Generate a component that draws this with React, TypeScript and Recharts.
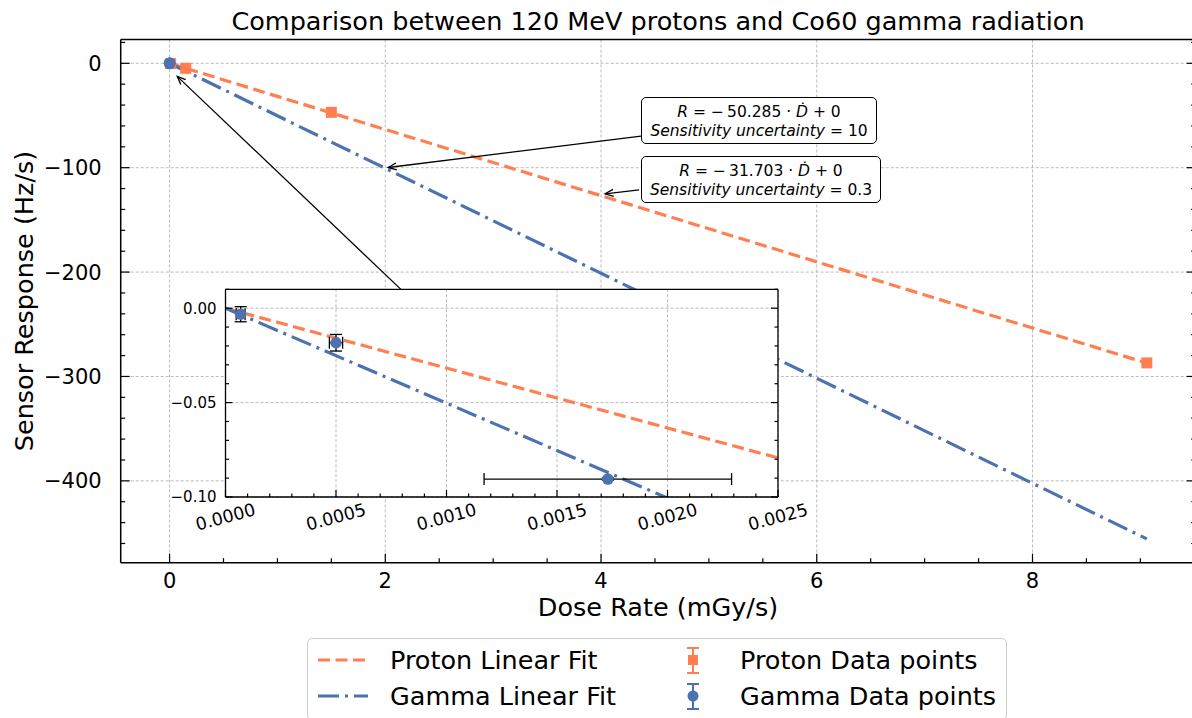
import React from 'react';
import {
  ComposedChart,
  Line,
  Scatter,
  XAxis,
  YAxis,
  ErrorBar,
  CartesianGrid,
  ReferenceLine,
} from 'recharts';

const FONT = "'DejaVu Sans', sans-serif";
const PROTON = '#FF7F50';
const GAMMA = '#4C72B0';

// measured points
const protonX = [0.01, 0.15, 1.5, 9.06];
const protonY = [-0.3, -4.8, -47, -287];
const gammaX = [0.0000685, 0.0005, 0.00173];
const gammaY = [-0.0032, -0.0183, -0.0905];
const gammaXErr = [0.00002, 0.00003, 0.00056];
const gammaYErr = [0.004, 0.0044, 0.0006];

// fit lines, end points
const fitX = [0, 9.06];
const protonFitY = [0, -287.2];
const gammaFitY = [0, -455.6];
const insetFitX = [0, 0.0025];
const insetProtonFitY = [0, -0.0793];
const insetGammaFitY = [0, -0.1257];

// annotation arrows [from, to] in data units
const gammaArrow = [{ x: 4.37, y: -69.7 }, { x: 2.027, y: -99.8 }];
const protonArrow = [{ x: 4.353, y: -121.2 }, { x: 4.038, y: -125 }];
const insetArrow = [{ x: 2.152, y: -217.3 }, { x: 0.071, y: -12.5 }];

const xMajor = [0, 2, 4, 6, 8];
const xLabels = ['0', '2', '4', '6', '8'];
const yMajor = [0, -100, -200, -300, -400];
const yLabels = ['0', '−100', '−200', '−300', '−400'];
const insetXMajor = [0, 0.0005, 0.001, 0.0015, 0.002, 0.0025];
const insetXLabels = ['0.0000', '0.0005', '0.0010', '0.0015', '0.0020', '0.0025'];
const insetYMajor = [0, -0.05, -0.1];
const insetYLabels = ['0.00', '−0.05', '−0.10'];

const legendLabels = ['Proton Linear Fit', 'Gamma Linear Fit', 'Proton Data points', 'Gamma Data points'];

const steps = (a: number, b: number, step: number) => {
  const n = Math.round((b - a) / step);
  return Array.from({ length: n + 1 }, (_, i) => +(a + i * step).toFixed(7));
};
const pts = (xs: number[], ys: number[]) => xs.map((x, i) => ({ x, y: ys[i] }));

const mainXTicks = steps(0, 9.5, 0.5);
const mainYTicks = steps(-460, 20, 20);
const insetXTicks = steps(0, 0.0025, 0.0001);
const insetYTicks = steps(-0.1, 0.01, 0.01);

const protonPts = pts(protonX, protonY);
const gammaPts = gammaX.map((x, i) => ({ x, y: gammaY[i], ex: gammaXErr[i], ey: gammaYErr[i] }));

type Side = 'bottom' | 'top' | 'left' | 'right';

function axisTick(
  side: Side,
  majors: number[],
  labels: string[] | null,
  major: number,
  minor: number,
  fontSize = 21,
  inset = false
) {
  return (props: any) => {
    const { x, y, payload } = props;
    const i = majors.findIndex((m) => Math.abs(m - payload.value) < 1e-9);
    const len = i >= 0 ? major : minor;
    const lp = { stroke: '#000', strokeWidth: 1.2 };
    let tl;
    if (side === 'bottom') tl = <line x1={x} x2={x} y1={y} y2={y - len} {...lp} />;
    else if (side === 'top') tl = <line x1={x} x2={x} y1={y} y2={y + len} {...lp} />;
    else if (side === 'left') tl = <line x1={x} x2={x + len} y1={y} y2={y} {...lp} />;
    else tl = <line x1={x} x2={x - len} y1={y} y2={y} {...lp} />;
    let label = null;
    if (labels && i >= 0) {
      if (side === 'bottom' && inset) {
        const cy = y + 20;
        label = (
          <text x={x} y={cy} textAnchor='middle' dominantBaseline='central' fontSize={fontSize}
            fontFamily={FONT} fill='#000' transform={`rotate(-15 ${x} ${cy})`}>
            {labels[i]}
          </text>
        );
      } else if (side === 'bottom') {
        label = (
          <text x={x} y={y + 25.5} textAnchor='middle' fontSize={fontSize} fontFamily={FONT} fill='#000'>
            {labels[i]}
          </text>
        );
      } else if (side === 'left') {
        label = (
          <text x={x - (inset ? 9 : 19)} y={y + fontSize * 0.36} textAnchor='end' fontSize={fontSize}
            fontFamily={FONT} fill='#000'>
            {labels[i]}
          </text>
        );
      }
    }
    return <g>{tl}{label}</g>;
  };
}

const Arrow = (p: any) => {
  const x1 = +p.x1, y1 = +p.y1, x2 = +p.x2, y2 = +p.y2;
  const a = Math.atan2(y2 - y1, x2 - x1);
  const L = 9, W = 0.4;
  const h1 = `${x2 - L * Math.cos(a - W)},${y2 - L * Math.sin(a - W)}`;
  const h2 = `${x2 - L * Math.cos(a + W)},${y2 - L * Math.sin(a + W)}`;
  return (
    <g>
      <line x1={x1} y1={y1} x2={x2} y2={y2} stroke='#000' strokeWidth={1.3} />
      <polyline points={`${h1} ${x2},${y2} ${h2}`} fill='none' stroke='#000' strokeWidth={1.3} />
    </g>
  );
};

const SquareDot = (p: any) => (
  <rect x={p.cx - 5.5} y={p.cy - 5.5} width={11} height={11} fill={PROTON} />
);
const CircleDot = (p: any) => <circle cx={p.cx} cy={p.cy} r={5.8} fill={GAMMA} />;

const axisLine = { stroke: '#000', strokeWidth: 1.5 };
const insetAxisLine = { stroke: '#000', strokeWidth: 1.3 };
const gridProps = { stroke: '#aaaaaa', strokeDasharray: '3 2', strokeWidth: 0.8 };

function Txt({ x, y, size, rotate = 0, children }: any) {
  return (
    <div
      style={{
        position: 'absolute', left: x, top: y, fontSize: size, lineHeight: 1, whiteSpace: 'nowrap',
        transform: `translate(-50%, -50%) rotate(${rotate}deg)`, fontFamily: FONT, color: '#000',
      }}
    >
      {children}
    </div>
  );
}

function Box({ left, top, width, slope, unc }: any) {
  return (
    <div
      style={{
        position: 'absolute', left, top, width, height: 47, border: '1.3px solid #000', borderRadius: 5,
        background: '#fff', boxSizing: 'border-box', fontFamily: FONT, fontSize: 15.5, textAlign: 'center',
        lineHeight: '19px', paddingTop: 4.5,
      }}
    >
      <div>
        <i>R</i> = −&#8201;{slope} · <i>Ḋ</i> + 0
      </div>
      <div>
        <i>Sensitivity uncertainty</i> = {unc}
      </div>
    </div>
  );
}

function LegendBox() {
  return (
    <div
      style={{
        position: 'absolute', left: 307, top: 638, width: 700, height: 82, border: '1px solid #cccccc',
        borderRadius: 5, background: '#fff', boxSizing: 'border-box',
      }}
    >
      <svg width={700} height={82} style={{ position: 'absolute', left: -1, top: -1 }}>
        <line x1={11} x2={61} y1={22} y2={22} stroke={PROTON} strokeWidth={3.2} strokeDasharray='12 5.5' />
        <line x1={11} x2={61} y1={58} y2={58} stroke={GAMMA} strokeWidth={3.2} strokeDasharray='21 6 3 6' />
        <g stroke={PROTON} strokeWidth={2}>
          <line x1={386} x2={386} y1={10} y2={35} />
          <line x1={380} x2={392} y1={10} y2={10} />
          <line x1={380} x2={392} y1={35} y2={35} />
        </g>
        <rect x={381} y={17} width={10} height={10} fill={PROTON} />
        <g stroke={GAMMA} strokeWidth={2}>
          <line x1={386} x2={386} y1={46} y2={71} />
          <line x1={380} x2={392} y1={46} y2={46} />
          <line x1={380} x2={392} y1={71} y2={71} />
        </g>
        <circle cx={386} cy={58} r={5.5} fill={GAMMA} />
        {legendLabels.map((t, i) => (
          <text key={t} x={i < 2 ? 83 : 433} y={(i % 2 === 0 ? 22 : 58) + 9} fontSize={25.5} fontFamily={FONT} fill='#000'>
            {t}
          </text>
        ))}
      </svg>
    </div>
  );
}

function MainChart() {
  return (
    <ComposedChart width={1200} height={718} margin={{ top: 38.5, right: 3.3, bottom: 154.3, left: 0 }}>
      <CartesianGrid verticalValues={xMajor} horizontalValues={yMajor} {...gridProps} />
      <XAxis dataKey='x' type='number' domain={[-0.453, 9.513]} allowDataOverflow ticks={mainXTicks}
        interval={0} height={1} tickSize={0} tickMargin={0} tickLine={false} axisLine={axisLine}
        tick={axisTick('bottom', xMajor, xLabels, 9, 4.5)} />
      <XAxis xAxisId='top' orientation='top' type='number' domain={[-0.453, 9.513]} allowDataOverflow
        ticks={mainXTicks} interval={0} height={1} tickSize={0} tickMargin={0} tickLine={false}
        axisLine={axisLine} tick={axisTick('top', xMajor, null, 9, 4.5)} />
      <YAxis dataKey='y' type='number' domain={[-478.4, 22.8]} allowDataOverflow ticks={mainYTicks}
        interval={0} width={120.7} tickSize={0} tickMargin={0} tickLine={false} axisLine={axisLine}
        tick={axisTick('left', yMajor, yLabels, 9, 4.5)} />
      <YAxis yAxisId='right' orientation='right' type='number' domain={[-478.4, 22.8]} allowDataOverflow
        ticks={mainYTicks} interval={0} width={1} tickSize={0} tickMargin={0} tickLine={false}
        axisLine={axisLine} tick={axisTick('right', yMajor, null, 9, 4.5)} />
      <Line data={pts(fitX, protonFitY)} dataKey='y' stroke={PROTON} strokeWidth={3.2}
        strokeDasharray='12 5.5' dot={false} activeDot={false} isAnimationActive={false} />
      <Line data={pts(fitX, gammaFitY)} dataKey='y' stroke={GAMMA} strokeWidth={3.2}
        strokeDasharray='21 6 3 6' dot={false} activeDot={false} isAnimationActive={false} />
      <Scatter data={protonPts} dataKey='y' shape={SquareDot} isAnimationActive={false} />
      <Scatter data={gammaPts} dataKey='y' shape={CircleDot} isAnimationActive={false} />
      <ReferenceLine segment={gammaArrow} ifOverflow='visible' shape={Arrow} />
      <ReferenceLine segment={protonArrow} ifOverflow='visible' shape={Arrow} />
      <ReferenceLine segment={insetArrow} ifOverflow='visible' shape={Arrow} />
    </ComposedChart>
  );
}

function InsetChart() {
  return (
    <div style={{ position: 'absolute', left: 150, top: 270 }}>
      <ComposedChart width={660} height={280} margin={{ top: 18.3, right: 31, bottom: 52, left: 74.5 }}>
        <CartesianGrid fill='#fff' fillOpacity={1} verticalValues={insetXMajor} horizontalValues={insetYMajor}
          {...gridProps} />
        <XAxis dataKey='x' type='number' domain={[0, 0.0025]} allowDataOverflow ticks={insetXTicks}
          interval={0} height={1} tickSize={0} tickMargin={0} tickLine={false} axisLine={insetAxisLine}
          tick={axisTick('bottom', insetXMajor, insetXLabels, 7, 3.5, 17.5, true)} />
        <XAxis xAxisId='top' orientation='top' type='number' domain={[0, 0.0025]} allowDataOverflow
          ticks={insetXTicks} interval={0} height={1} tickSize={0} tickMargin={0} tickLine={false}
          axisLine={insetAxisLine} tick={axisTick('top', insetXMajor, null, 7, 3.5)} />
        <YAxis dataKey='y' type='number' domain={[-0.1, 0.01]} allowDataOverflow ticks={insetYTicks}
          interval={0} width={1} tickSize={0} tickMargin={0} tickLine={false} axisLine={insetAxisLine}
          tick={axisTick('left', insetYMajor, insetYLabels, 7, 3.5, 15, true)} />
        <YAxis yAxisId='right' orientation='right' type='number' domain={[-0.1, 0.01]} allowDataOverflow
          ticks={insetYTicks} interval={0} width={1} tickSize={0} tickMargin={0} tickLine={false}
          axisLine={insetAxisLine} tick={axisTick('right', insetYMajor, null, 7, 3.5)} />
        <Line data={pts(insetFitX, insetProtonFitY)} dataKey='y' stroke={PROTON} strokeWidth={3.2}
          strokeDasharray='12 5.5' dot={false} activeDot={false} isAnimationActive={false} />
        <Line data={pts(insetFitX, insetGammaFitY)} dataKey='y' stroke={GAMMA} strokeWidth={3.2}
          strokeDasharray='21 6 3 6' dot={false} activeDot={false} isAnimationActive={false} />
        <Scatter data={gammaPts} dataKey='y' shape={CircleDot} isAnimationActive={false}>
          <ErrorBar dataKey='ex' direction='x' width={6} stroke='#000' strokeWidth={1.3} />
          <ErrorBar dataKey='ey' direction='y' width={6} stroke='#000' strokeWidth={1.3} />
        </Scatter>
      </ComposedChart>
    </div>
  );
}

export default function App() {
  return (
    <div
      style={{
        position: 'fixed', left: 0, top: 0, width: 1192, height: 718, overflow: 'hidden',
        background: '#fff', fontFamily: FONT,
      }}
    >
      <MainChart />
      <InsetChart />
      <Box left={641} top={97} width={236} slope='50.285' unc='10' />
      <Box left={641} top={156} width={240} slope='31.703' unc='0.3' />
      <Txt x={658} y={22} size={25.5}>Comparison between 120 MeV protons and Co60 gamma radiation</Txt>
      <Txt x={658} y={608} size={25.5}>Dose Rate (mGy/s)</Txt>
      <Txt x={25} y={301} size={25.5} rotate={-90}>Sensor Response (Hz/s)</Txt>
      <LegendBox />
    </div>
  );
}
